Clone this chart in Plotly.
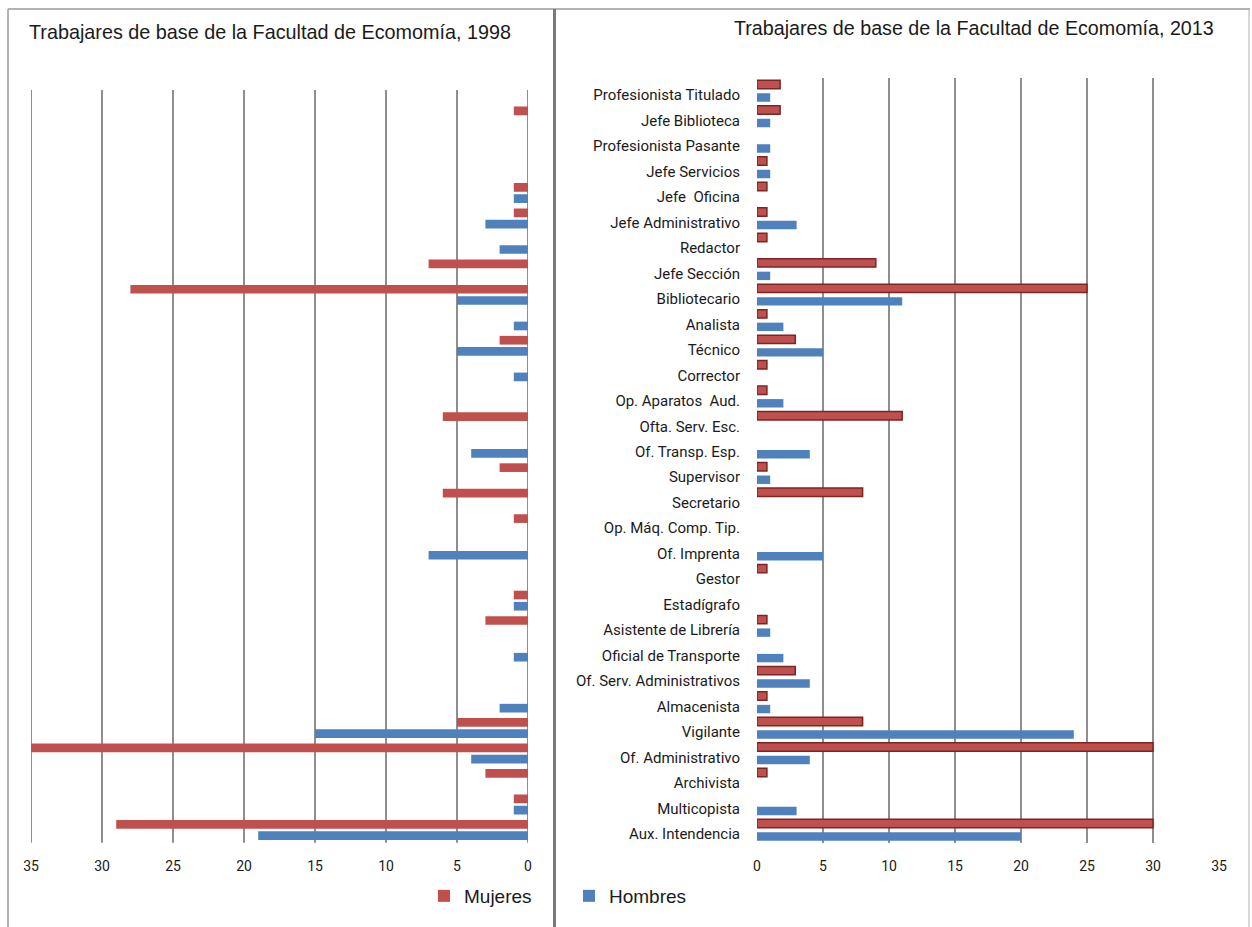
import plotly.graph_objects as go

W, H = 1252, 927

categories = [
    "Profesionista Titulado", "Jefe Biblioteca", "Profesionista Pasante", "Jefe Servicios",
    "Jefe  Oficina", "Jefe Administrativo", "Redactor", "Jefe Sección", "Bibliotecario",
    "Analista", "Técnico", "Corrector", "Op. Aparatos  Aud.", "Ofta. Serv. Esc.",
    "Of. Transp. Esp.", "Supervisor", "Secretario", "Op. Máq. Comp. Tip.", "Of. Imprenta",
    "Gestor", "Estadígrafo", "Asistente de Librería", "Oficial de Transporte",
    "Of. Serv. Administrativos", "Almacenista", "Vigilante", "Of. Administrativo",
    "Archivista", "Multicopista", "Aux. Intendencia",
]

mujeres_1998 = [0, 1, 0, 0, 1, 1, 0, 7, 28, 0, 2, 0, 0, 6, 0, 2, 6, 1, 0, 0,
                1, 3, 0, 0, 0, 5, 35, 3, 1, 29]
hombres_1998 = [0, 0, 0, 0, 1, 3, 2, 0, 5, 1, 5, 1, 0, 0, 4, 0, 0, 0, 7, 0,
                1, 0, 1, 0, 2, 15, 4, 0, 1, 19]

mujeres_2013 = [1.75, 1.75, 0, 0.75, 0.75, 0.75, 0.75, 9, 25, 0.75, 2.9, 0.75, 0.75, 11, 0,
                0.75, 8, 0, 0, 0.75, 0, 0.75, 0, 2.9, 0.75, 8, 30, 0.75, 0, 30]
hombres_2013 = [1, 1, 1, 1, 0, 3, 0, 1, 11, 2, 5, 0, 2, 0, 4, 1, 0, 0, 5, 0,
                0, 1, 2, 4, 1, 24, 4, 0, 3, 20]

x_ticks = [0, 5, 10, 15, 20, 25, 30, 35]

title_1998 = "Trabajares de base de la Facultad de Ecomomía, 1998"
title_2013 = "Trabajares de base de la Facultad de Ecomomía, 2013"

RED = "#C0504D"
BLUE = "#4F81BD"
GRID = "#8E8E8E"


def px_x(v):
    return v / W


def px_y(v):
    return 1 - v / H


fig = go.Figure()

fig.add_trace(go.Bar(
    y=categories, x=mujeres_1998, orientation="h", name="Mujeres",
    marker=dict(color=RED, line=dict(width=0)), width=0.34, offset=-0.39,
    xaxis="x", yaxis="y", legendgroup="m", showlegend=True,
))
fig.add_trace(go.Bar(
    y=categories, x=hombres_1998, orientation="h", name="Hombres",
    marker=dict(color=BLUE, line=dict(width=0)), width=0.34, offset=0.05,
    xaxis="x", yaxis="y", legendgroup="h", showlegend=True,
))
fig.add_trace(go.Bar(
    y=categories, x=mujeres_2013, orientation="h", name="Mujeres",
    marker=dict(color=RED, line=dict(width=[1.5 if v > 0 else 0 for v in mujeres_2013],
                                     color="#7A2624")),
    width=0.33, offset=-0.42,
    xaxis="x2", yaxis="y2", legendgroup="m", showlegend=False,
))
fig.add_trace(go.Bar(
    y=categories, x=hombres_2013, orientation="h", name="Hombres",
    marker=dict(color=BLUE, line=dict(width=0)), width=0.33, offset=0.09,
    xaxis="x2", yaxis="y2", legendgroup="h", showlegend=False,
))

ydom = [px_y(842.7), px_y(78.3)]
tickfont = dict(family="Roboto, Liberation Sans, sans-serif", size=14, color="#1a1a1a")

common_x = dict(
    tickvals=x_ticks, ticktext=[str(t) for t in x_ticks],
    zeroline=False, showline=False, ticks="", tickfont=tickfont, ticklabelstandoff=13,
    fixedrange=True,
)

# left-panel gridlines start a little lower than the plot top, as in the reference
grid_shapes = [
    dict(type="line", xref="x", yref="paper", x0=t, x1=t, y0=px_y(842.7), y1=px_y(90),
         line=dict(color=GRID, width=2), layer="below")
    for t in x_ticks
]

frame_shapes = [
    dict(type="line", xref="paper", yref="paper", x0=px_x(8), x1=px_x(8), y0=px_y(9), y1=px_y(927),
         line=dict(color="#9A9A9A", width=1.5)),
    dict(type="line", xref="paper", yref="paper", x0=px_x(8), x1=px_x(1250), y0=px_y(9), y1=px_y(9),
         line=dict(color="#9A9A9A", width=1.5)),
    dict(type="line", xref="paper", yref="paper", x0=px_x(554.5), x1=px_x(554.5), y0=px_y(9), y1=px_y(927),
         line=dict(color="#7A7A7A", width=3)),
    dict(type="line", xref="paper", yref="paper", x0=px_x(1249), x1=px_x(1249), y0=px_y(9), y1=px_y(927),
         line=dict(color="#B0B0B0", width=1)),
]

fig.update_layout(
    width=W, height=H, autosize=False,
    margin=dict(l=0, r=0, t=0, b=0, pad=0, autoexpand=False),
    paper_bgcolor="white", plot_bgcolor="white",
    barmode="overlay",
    font=dict(family="Liberation Sans, Arial, sans-serif", color="#1a1a1a"),
    xaxis=dict(domain=[px_x(31), px_x(528)], range=[35, 0], anchor="y", showgrid=False, **common_x),
    yaxis=dict(domain=ydom, type="category", categoryorder="array", categoryarray=categories,
               range=[29.5, -0.5], showticklabels=False, showgrid=False, zeroline=False,
               ticks="", anchor="x", fixedrange=True),
    xaxis2=dict(domain=[px_x(757), px_x(1219)], range=[0, 35], anchor="y2",
                showgrid=True, gridcolor=GRID, gridwidth=2, **common_x),
    yaxis2=dict(domain=ydom, type="category", categoryorder="array", categoryarray=categories,
                range=[29.5, -0.5], showgrid=False, zeroline=False, ticks="",
                tickfont=dict(family="Roboto, Liberation Sans, sans-serif", size=15, color="#1a1a1a"),
                ticklabelstandoff=16, ticklabelshift=-4, anchor="x2", fixedrange=True),
    legend=dict(
        orientation="h", x=px_x(424), y=px_y(896), xanchor="left", yanchor="middle",
        font=dict(family="Liberation Sans, Arial, sans-serif", size=19, color="#1a1a1a"),
        bgcolor="rgba(0,0,0,0)", itemwidth=30, entrywidth=100, entrywidthmode="pixels",
        traceorder="normal",
    ),
    showlegend=True,
    annotations=[
        dict(text=title_1998, x=px_x(27), y=px_y(32), xref="paper", yref="paper",
             xanchor="left", yanchor="middle", showarrow=False,
             font=dict(family="Liberation Sans, Arial, sans-serif", size=19.8, color="#1a1a1a")),
        dict(text=title_2013, x=px_x(732), y=px_y(28), xref="paper", yref="paper",
             xanchor="left", yanchor="middle", showarrow=False,
             font=dict(family="Liberation Sans, Arial, sans-serif", size=19.7, color="#1a1a1a")),
    ],
    shapes=grid_shapes + frame_shapes,
)

fig.write_html(
    "out.html",
    config={"displayModeBar": False},
    post_script="document.body.style.margin='0';document.documentElement.style.overflow='hidden';",
)
